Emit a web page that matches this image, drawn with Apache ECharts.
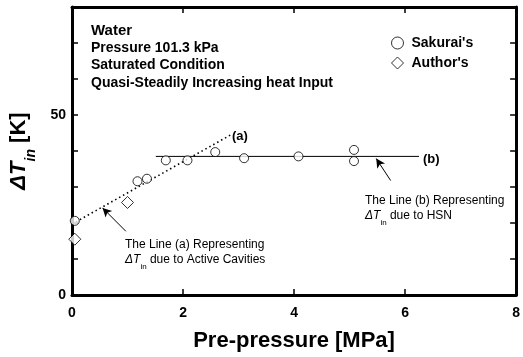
<!DOCTYPE html>
<html>
<head>
<meta charset="utf-8">
<script src="https://cdn.jsdelivr.net/npm/echarts@6/dist/echarts.min.js"></script>
<style>html,body{margin:0;padding:0;background:#fff;}#c{width:523px;height:357px;}</style>
</head>
<body>
<div id="c"></div>
<script>
// Data
var sakuraiX = [0.05, 1.18, 1.35, 1.69, 2.08, 2.58, 3.10, 4.08, 5.08, 5.08];
var sakuraiY = [20.6, 31.6, 32.3, 37.4, 37.4, 39.7, 38.0, 38.5, 40.3, 37.2];
var authorX = [0.05, 1.0];
var authorY = [15.5, 25.7];
var lineAX = [0, 2.85];
var lineAY = [19.7, 44.4];
var lineBX = [1.51, 6.25];
var lineBY = [38.5, 38.5];
var xTicks = [0, 2, 4, 6, 8];
var yTickLabels = [0, 50];

function pairs(xs, ys) { return xs.map(function (x, i) { return [x, ys[i]]; }); }

var font = 'Liberation Sans, Arial, sans-serif';
var chart = echarts.init(document.getElementById('c'));

var axisLine = { show: true, onZero: false, lineStyle: { color: '#000', width: 3 } };
var axisTick = { show: true, inside: true, length: 6, lineStyle: { color: '#000', width: 1.5 } };

var option = {
  animation: false,
  backgroundColor: '#fff',
  grid: { left: 71, right: 6, top: 7, bottom: 52, containLabel: false },
  legend: {
    orient: 'vertical',
    left: 391, top: 36, padding: 0,
    itemWidth: 12, itemHeight: 12, itemGap: 6,
    textStyle: { fontFamily: font, fontSize: 14, fontWeight: 'bold', color: '#000', padding: [0, 0, 0, 3] },
    data: [
      { name: "Sakurai's", itemStyle: { color: '#fff', borderColor: '#000', borderWidth: 1 } },
      { name: "Author's", itemStyle: { color: '#fff', borderColor: '#000', borderWidth: 1 } }
    ]
  },
  xAxis: [{
    type: 'value', position: 'bottom', min: 0, max: 8, interval: 2,
    axisLine: axisLine, axisTick: axisTick, splitLine: { show: false },
    axisLabel: { margin: 11, fontFamily: font, fontSize: 14, fontWeight: 'bold', color: '#000',
      formatter: function (v) { return xTicks.indexOf(v) >= 0 ? String(v) : ''; } },
    name: 'Pre-pressure [MPa]', nameLocation: 'middle', nameGap: 35,
    nameTextStyle: { fontFamily: font, fontSize: 22, fontWeight: 'bold', color: '#000' }
  }, {
    type: 'value', position: 'top', min: 0, max: 8, interval: 2,
    axisLine: axisLine, axisTick: axisTick, axisLabel: { show: false }, splitLine: { show: false }
  }],
  yAxis: [{
    type: 'value', position: 'left', min: 0, max: 80, interval: 10,
    axisLine: axisLine, axisTick: axisTick, splitLine: { show: false },
    axisLabel: { margin: 6, fontFamily: font, fontSize: 14, fontWeight: 'bold', color: '#000',
      formatter: function (v) { return yTickLabels.indexOf(v) >= 0 ? String(v) : ''; } },
    name: '{d|ΔT}{s|in}{k| [K]}', nameLocation: 'middle', nameGap: 40, nameRotate: 90,
    nameTextStyle: {
      color: '#000',
      rich: {
        d: { fontFamily: font, fontSize: 22, fontWeight: 'bold', fontStyle: 'italic', color: '#000', lineHeight: 26 },
        s: { fontFamily: font, fontSize: 14, fontWeight: 'bold', fontStyle: 'italic', color: '#000', verticalAlign: 'bottom', lineHeight: 26, padding: [0, 0, -6, 0] },
        k: { fontFamily: font, fontSize: 22, fontWeight: 'bold', color: '#000', lineHeight: 26 }
      }
    }
  }, {
    type: 'value', position: 'right', min: 0, max: 80, interval: 10,
    axisLine: axisLine, axisTick: axisTick, axisLabel: { show: false }, splitLine: { show: false }
  }],
  series: [{
    name: 'line a', type: 'line', data: pairs(lineAX, lineAY), symbol: 'none',
    lineStyle: { color: '#000', width: 1.6, type: [1.5, 3] }, z: 2,
    markLine: {
      silent: true, symbol: ['none', 'arrow'], symbolSize: [7, 9], label: { show: false },
      lineStyle: { color: '#000', width: 1, type: 'solid' },
      data: [
        [{ coord: [0.97, 17.7] }, { coord: [0.55, 24.2] }],
        [{ coord: [5.74, 31.8] }, { coord: [5.48, 37.9] }]
      ]
    }
  }, {
    name: 'line b', type: 'line', data: pairs(lineBX, lineBY), symbol: 'none',
    lineStyle: { color: '#000', width: 1, type: 'solid' }, z: 2
  }, {
    name: "Sakurai's", type: 'scatter', data: pairs(sakuraiX, sakuraiY), symbol: 'circle', symbolSize: 9,
    itemStyle: { color: '#fff', borderColor: '#000', borderWidth: 1 }, z: 3
  }, {
    name: "Author's", type: 'scatter', data: pairs(authorX, authorY), symbol: 'diamond', symbolSize: 12,
    itemStyle: { color: '#fff', borderColor: '#000', borderWidth: 1 }, z: 3
  }],
  graphic: [
    { type: 'text', left: 91, top: 23, style: { text: 'Water', font: 'bold 15px ' + font, fill: '#000' } },
    { type: 'text', left: 91, top: 41, style: { text: 'Pressure 101.3 kPa', font: 'bold 14px ' + font, fill: '#000' } },
    { type: 'text', left: 91, top: 58, style: { text: 'Saturated Condition', font: 'bold 14px ' + font, fill: '#000' } },
    { type: 'text', left: 91, top: 76, style: { text: 'Quasi-Steadily Increasing heat Input', font: 'bold 14px ' + font, fill: '#000' } },
    { type: 'text', left: 232, top: 130, style: { text: '(a)', font: 'bold 13px ' + font, fill: '#000' } },
    { type: 'text', left: 423, top: 153, style: { text: '(b)', font: 'bold 13px ' + font, fill: '#000' } },
    { type: 'text', left: 365, top: 195, style: { text: 'The Line (b) Representing', font: '12px ' + font, fill: '#000' } },
    { type: 'text', left: 365, top: 210, style: {
      text: '{d|ΔT}{s|in}{t| due to HSN}',
      rich: {
        d: { font: 'italic 12px ' + font, fill: '#000', lineHeight: 16 },
        s: { font: '8px ' + font, fill: '#000', verticalAlign: 'bottom', lineHeight: 16, padding: [0, 0, -3, 0] },
        t: { font: '12px ' + font, fill: '#000', lineHeight: 16 }
      } } },
    { type: 'text', left: 125, top: 239, style: { text: 'The Line (a) Representing', font: '12px ' + font, fill: '#000' } },
    { type: 'text', left: 125, top: 254, style: {
      text: '{d|ΔT}{s|in}{t| due to Active Cavities}',
      rich: {
        d: { font: 'italic 12px ' + font, fill: '#000', lineHeight: 16 },
        s: { font: '8px ' + font, fill: '#000', verticalAlign: 'bottom', lineHeight: 16, padding: [0, 0, -3, 0] },
        t: { font: '12px ' + font, fill: '#000', lineHeight: 16 }
      } } }
  ]
};
chart.setOption(option);
</script>
</body>
</html>
